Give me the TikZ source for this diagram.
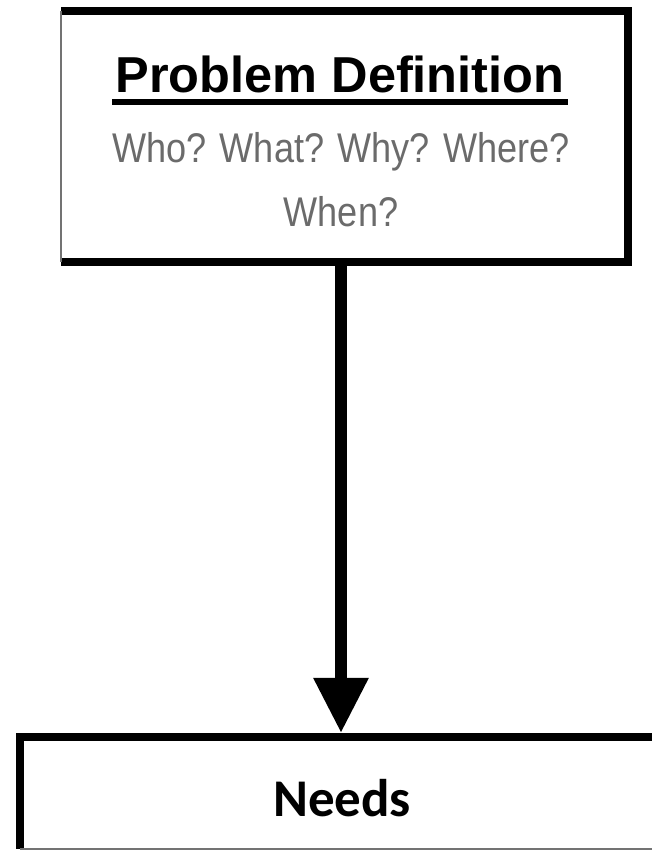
\documentclass[tikz,border=0pt]{standalone}
\usepackage{graphicx}
\usepackage{fontspec}
\setmainfont{Liberation Sans}
\newfontfamily\needsfont{Carlito}
\usetikzlibrary{arrows.meta,calc}
\newcommand{\narrowtext}[1]{\scalebox{0.87}[1]{#1}}
\begin{document}
\begin{tikzpicture}[
  areabox/.style={inner sep=0pt, outer sep=0pt},
  frame/.style={line width=8pt, draw=black, line join=miter},
  thinedge/.style={line width=2pt, draw=black!55},
  label/.style={anchor=base, inner sep=0pt},
  question/.style={label, text=black!58, font=\fontsize{41.5}{44}\selectfont},
  flow/.style={line width=12pt, -{Triangle[length=55pt,width=52pt]}}
]
\useasboundingbox (0,0) rectangle (652pt,852pt);
\fill[white] (0,0) rectangle (652pt,852pt);

% problem definition box
\node[areabox, minimum width=567pt, minimum height=251pt] (defbox) at (344.5pt,715.5pt) {};
\draw[frame] (defbox.north west) -- (defbox.north east) -- (defbox.south east) -- (defbox.south west);
\draw[thinedge] (defbox.north west) -- (defbox.south west);

\node[label] (title) at (340pt,759pt) {\fontsize{50.5}{60}\selectfont\bfseries Problem Definition};
\draw[line width=6pt] ($(title.base west)+(-3pt,-9pt)$) -- ($(title.base east)+(3pt,-9pt)$);
\node[question] (q1) at (341pt,689pt) {\narrowtext{Who? What? Why? Where?}};
\node[question] (q2) at (341pt,625pt) {\narrowtext{When?}};

% needs box
\node[areabox, minimum width=640pt, minimum height=112pt] (needsbox) at (340pt,59pt) {};
\draw[frame] (needsbox.south west) -- (needsbox.north west) -- (needsbox.north east);
\draw[thinedge] (needsbox.south west) -- (needsbox.south east);
\node[label] (needs) at (342pt,35pt) {\needsfont\fontsize{53}{60}\selectfont\bfseries Needs};

% connector
\coordinate (axis) at (341pt,0pt);
\draw[flow] (defbox.south -| axis) -- ($(needsbox.north -| axis)+(0,4pt)$);
\end{tikzpicture}
\end{document}
